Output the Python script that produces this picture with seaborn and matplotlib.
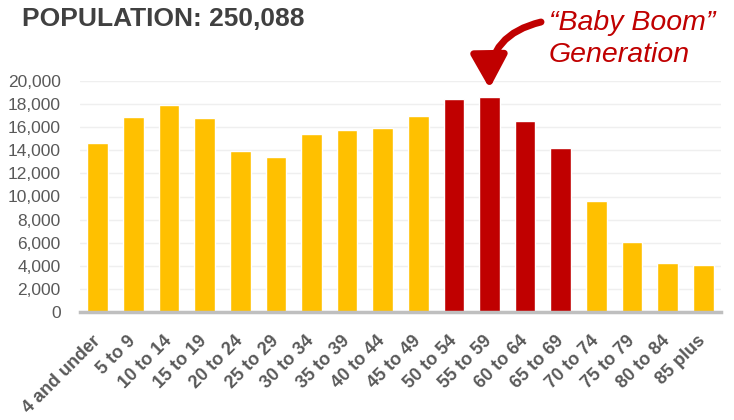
import matplotlib
matplotlib.use("Agg")
import matplotlib.pyplot as plt
import seaborn as sns
import pandas as pd

categories = ["4 and under", "5 to 9", "10 to 14", "15 to 19", "20 to 24", "25 to 29",
              "30 to 34", "35 to 39", "40 to 44", "45 to 49", "50 to 54", "55 to 59",
              "60 to 64", "65 to 69", "70 to 74", "75 to 79", "80 to 84", "85 plus"]
population = [14600, 16900, 17900, 16800, 13900, 13450, 15400, 15750, 15900, 17000,
              18450, 18600, 16550, 14200, 9650, 6100, 4200, 4080]
groups = ["Other"] * 10 + ["Baby Boom"] * 4 + ["Other"] * 4
y_ticks = [0, 2000, 4000, 6000, 8000, 10000, 12000, 14000, 16000, 18000, 20000]

title_text = "POPULATION: 250,088"
note_text = "\u201cBaby Boom\u201d\nGeneration"

df = pd.DataFrame({"age": categories, "pop": population, "group": groups})

sns.set_style("white")
plt.rcParams["font.family"] = ["Liberation Sans", "DejaVu Sans"]

fig = plt.figure(figsize=(7.34, 4.2), dpi=100)
ax = fig.add_axes([80 / 734, 1 - 312 / 420, (721 - 80) / 734, (312 - 81) / 420])

sns.barplot(data=df, x="age", y="pop", hue="group", dodge=False, legend=False,
            palette={"Other": "#FFC000", "Baby Boom": "#C00000"},
            width=0.58, saturation=1, ax=ax, order=categories)

ax.set_ylim(0, 20000)
ax.set_xlim(-0.5, len(categories) - 0.5)
ax.set_yticks(y_ticks)
ax.set_yticklabels([f"{v:,}" for v in y_ticks])
ax.yaxis.grid(True, color="#EFEFEF", linewidth=1)
ax.set_axisbelow(True)
ax.set_xlabel("")
ax.set_ylabel("")
for s in ["top", "right", "left"]:
    ax.spines[s].set_visible(False)
ax.spines["bottom"].set_color("#BFBFBF")
ax.spines["bottom"].set_linewidth(2.5)
ax.tick_params(axis="y", length=0, pad=14, labelsize=12.5, labelcolor="#595959")
ax.tick_params(axis="x", length=0, pad=19, labelsize=13, labelcolor="#595959")
for lab in ax.get_xticklabels():
    lab.set_rotation(45)
    lab.set_ha("right")
    lab.set_va("center")
    lab.set_rotation_mode("anchor")
    lab.set_fontweight("bold")

fig.text(22 / 734, 1 - 7 / 420, title_text, ha="left", va="top",
         fontsize=19, fontweight="bold", color="#404040")

fig.text(549 / 734, 1 - 10 / 420, note_text, ha="left", va="top",
         fontsize=20.5, fontstyle="italic", color="#C00000", linespacing=1.3)

ax.annotate("", xy=(11, 19350), xycoords="data",
            xytext=(541, 420 - 22), textcoords="figure pixels",
            arrowprops=dict(arrowstyle="-|>,head_length=1.0,head_width=0.55",
                            mutation_scale=20,
                            color="#C00000", lw=5,
                            connectionstyle="arc3,rad=0.4",
                            shrinkA=0, shrinkB=0))

fig.savefig("out.png", dpi=100)
